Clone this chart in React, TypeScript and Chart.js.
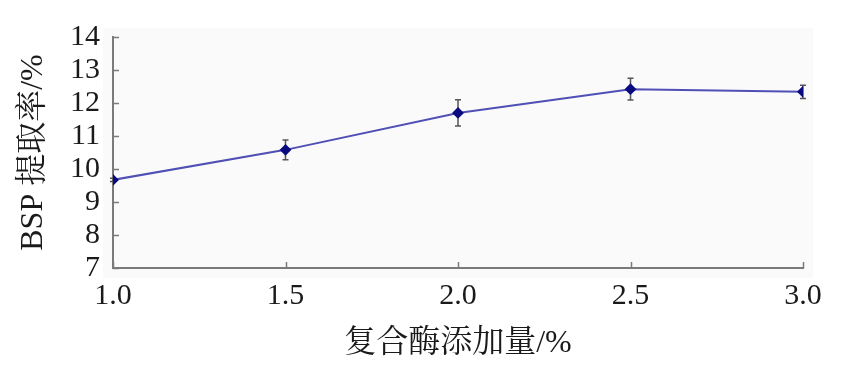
import React, { useEffect, useRef } from "react";
import { Chart, registerables } from "chart.js";

Chart.register(...registerables);

const doses = [1.0, 1.5, 2.0, 2.5, 3.0];
const extraction = [9.67, 10.58, 11.7, 12.42, 12.34];
const errors = [0.05, 0.3, 0.4, 0.33, 0.2];
const xTitle = "复合酶添加量/%";
const yTitle = "BSP 提取率/%";

const FONT = '"Liberation Serif", "Noto Serif CJK SC", "Noto Sans CJK SC", serif';
const AXIS_COLOR = "#7a7a7a";

const decorPlugin = {
  id: "decor",
  beforeDraw(chart: any) {
    const { ctx, chartArea } = chart;
    ctx.save();
    ctx.fillStyle = "#fafafa";
    ctx.fillRect(chartArea.left - 10, chartArea.top - 9, chartArea.right - chartArea.left + 20, chartArea.bottom - chartArea.top + 19);
    ctx.restore();
  },
  afterDraw(chart: any) {
    const { ctx, scales } = chart;
    const x = scales.x;
    const y = scales.y;
    ctx.save();
    ctx.strokeStyle = AXIS_COLOR;
    ctx.lineWidth = 1.5;
    y.ticks.forEach((t: any) => {
      const py = Math.round(y.getPixelForValue(t.value)) + 0.5;
      ctx.beginPath();
      ctx.moveTo(x.left, py);
      ctx.lineTo(x.left + 6, py);
      ctx.stroke();
    });
    x.ticks.forEach((t: any) => {
      const px = Math.round(x.getPixelForValue(t.value)) + 0.5;
      ctx.beginPath();
      ctx.moveTo(px, y.bottom);
      ctx.lineTo(px, y.bottom - 6);
      ctx.stroke();
    });
    ctx.restore();
  },
  beforeDatasetsDraw(chart: any) {
    const { ctx, scales } = chart;
    const x = scales.x;
    const y = scales.y;
    ctx.save();
    ctx.strokeStyle = "#555555";
    ctx.lineWidth = 1.5;
    doses.forEach((d, i) => {
      const px = x.getPixelForValue(d);
      const y1 = y.getPixelForValue(extraction[i] + errors[i]);
      const y2 = y.getPixelForValue(extraction[i] - errors[i]);
      ctx.beginPath();
      ctx.moveTo(px, y1);
      ctx.lineTo(px, y2);
      ctx.moveTo(px - 3, y1);
      ctx.lineTo(px + 3, y1);
      ctx.moveTo(px - 3, y2);
      ctx.lineTo(px + 3, y2);
      ctx.stroke();
    });
    ctx.restore();
  },
};

export default function App() {
  const ref = useRef<HTMLCanvasElement | null>(null);
  useEffect(() => {
    if (!ref.current) return;
    const chart = new Chart(ref.current, {
      type: "line",
      data: {
        datasets: [
          {
            data: doses.map((d, i) => ({ x: d, y: extraction[i] })),
            borderColor: "#4f4fb5",
            borderWidth: 2,
            pointStyle: "rectRot",
            pointRadius: 4.5,
            pointBackgroundColor: "#0a0a80",
            pointBorderColor: "#0a0a80",
            tension: 0,
          },
        ],
      },
      options: {
        animation: false,
        responsive: false,
        layout: { padding: { top: 37, right: 49, bottom: 0, left: 0 } },
        plugins: { legend: { display: false }, tooltip: { enabled: false } },
        scales: {
          x: {
            type: "linear",
            min: 1,
            max: 3,
            grid: { display: false, drawTicks: false },
            border: { display: true, color: AXIS_COLOR, width: 2 },
            ticks: {
              stepSize: 0.5,
              autoSkip: false,
              maxRotation: 0,
              padding: 10,
              color: "#1a1a1a",
              font: { family: FONT, size: 30 },
              callback: (v: any) => Number(v).toFixed(1),
            },
            title: {
              display: true,
              text: xTitle,
              color: "#1a1a1a",
              font: { family: FONT, size: 32 },
              padding: { top: 0, bottom: 4 },
            },
            afterFit: (s: any) => {
              s.height = 99;
            },
          },
          y: {
            min: 7,
            max: 14,
            grid: { display: false, drawTicks: false },
            border: { display: true, color: AXIS_COLOR, width: 2 },
            ticks: {
              stepSize: 1,
              autoSkip: false,
              padding: 13,
              color: "#1a1a1a",
              font: { family: FONT, size: 30 },
            },
            title: {
              display: true,
              text: yTitle,
              color: "#1a1a1a",
              font: { family: FONT, size: 32 },
              padding: { top: 14, bottom: 0 },
            },
            afterFit: (s: any) => {
              s.width = 113;
            },
          },
        },
      },
      plugins: [decorPlugin],
    });
    return () => chart.destroy();
  }, []);
  return (
    <div style={{ position: "fixed", left: 0, top: 0, width: 852, height: 367, background: "#ffffff" }}>
      <canvas ref={ref} width={852} height={367} />
    </div>
  );
}
